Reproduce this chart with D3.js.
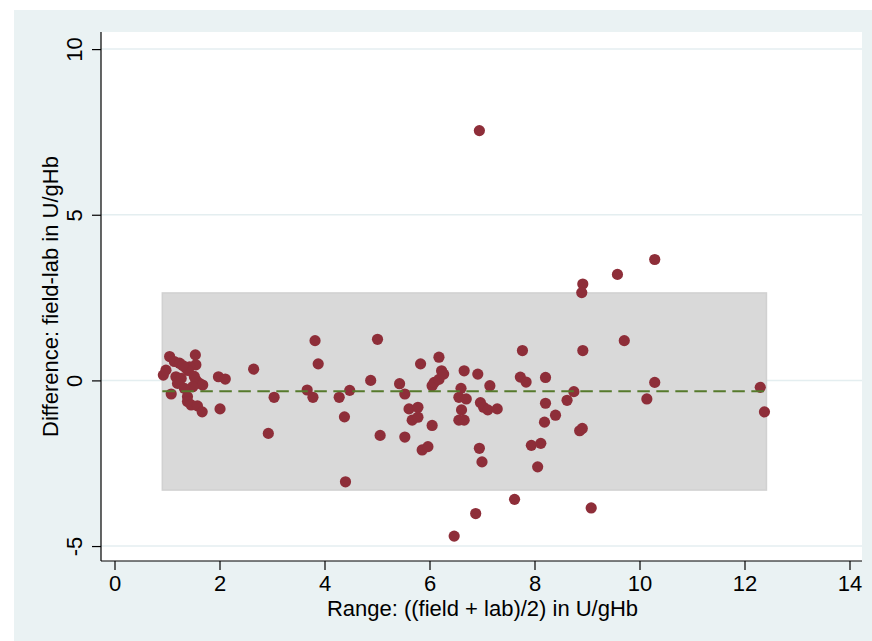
<!DOCTYPE html>
<html>
<head>
<meta charset="utf-8">
<script src="https://cdn.jsdelivr.net/npm/d3@7"></script>
<style>
body { margin: 0; background: #ffffff; }
svg { display: block; }
text { font-family: Arial, "Liberation Sans", sans-serif; fill: #000; }
</style>
</head>
<body>
<script>
// mean of field and lab (x) and their difference (y)
var rangeVals = [
    1.05, 1.14, 1.24, 1.54, 1.55, 1.43, 1.36, 0.93, 0.98, 1.17,
    1.27, 1.20, 1.55, 1.62, 1.68, 1.49, 1.33, 1.08, 1.39, 1.39,
    1.46, 1.58, 1.67, 1.98, 2.11, 2.01, 1.40, 1.52, 1.30,
    2.65, 3.04, 2.93, 3.82, 3.88, 3.67, 3.78, 4.28, 4.48, 4.38,
    4.40, 4.88, 5.01, 5.06, 5.43, 5.53, 5.53, 5.83, 6.18, 5.61,
    5.78, 5.67, 5.78, 6.05, 5.86, 5.97, 6.05, 6.09, 6.18, 6.23,
    6.27, 6.47, 6.60, 6.66, 6.56, 6.70, 6.61, 6.56, 6.66, 6.92,
    6.97, 7.03, 7.11, 7.29, 7.15, 6.95, 7.00, 6.95, 6.88, 7.62,
    7.77, 7.73, 7.84, 8.21, 8.21, 8.19, 8.40, 7.94, 8.12, 8.06,
    8.62, 8.75, 8.92, 8.86, 8.91, 8.92, 8.90, 9.08, 9.58, 9.71,
    10.29, 10.29, 10.14, 12.30, 12.38
];
var diffVals = [
    0.72, 0.57, 0.52, 0.77, 0.47, 0.41, 0.37, 0.16, 0.31, 0.11,
    0.06, -0.09, 0.01, -0.09, -0.14, -0.19, -0.24, -0.41, -0.49, -0.64,
    -0.74, -0.77, -0.95, 0.11, 0.04, -0.86, 0.30, 0.12, 0.45,
    0.34, -0.51, -1.60, 1.20, 0.50, -0.29, -0.51, -0.51, -0.30, -1.10,
    -3.06, 0.00, 1.24, -1.66, -0.10, -0.41, -1.71, 0.50, 0.70, -0.86,
    -0.81, -1.20, -1.11, -1.36, -2.10, -2.00, -0.16, -0.06, 0.03, 0.29,
    0.19, -4.70, -0.24, 0.29, -0.51, -0.56, -0.89, -1.20, -1.20, 0.19,
    -0.67, -0.81, -0.89, -0.86, -0.16, -2.05, -2.46, 7.54, -4.02, -3.59,
    0.90, 0.10, -0.05, 0.09, -0.69, -1.26, -1.05, -1.96, -1.90, -2.61,
    -0.60, -0.34, 0.90, -1.52, -1.45, 2.91, 2.65, -3.85, 3.20, 1.20,
    3.65, -0.06, -0.56, -0.21, -0.95
];

var meanDiff = -0.33;
var loaUpper = 2.64;
var loaLower = -3.31;

var xTicks = [0, 2, 4, 6, 8, 10, 12, 14];
var yTicks = [-5, 0, 5, 10];
var xTitle = "Range: ((field + lab)/2) in U/gHb";
var yTitle = "Difference: field-lab in U/gHb";

var W = 872, H = 641;
var plot = { left: 101, right: 862, top: 32, bottom: 561 };

var svg = d3.select("body").append("svg")
    .attr("width", W)
    .attr("height", H);

// graph region
svg.append("rect")
    .attr("x", 14).attr("y", 10)
    .attr("width", W - 14).attr("height", H - 10)
    .attr("fill", "#eaf2f3");

// plot region
svg.append("rect")
    .attr("x", plot.left).attr("y", plot.top)
    .attr("width", plot.right - plot.left).attr("height", plot.bottom - plot.top)
    .attr("fill", "#ffffff");

var x = d3.scaleLinear().domain([0, 14]).range([114.5, 849.5]);
var y = d3.scaleLinear().domain([0, 10]).range([380.4, 49.1]);

function plainNum(d) { return String(d); }

// grid lines
svg.append("g").selectAll("line")
    .data(yTicks)
    .enter().append("line")
    .attr("x1", plot.left).attr("x2", plot.right)
    .attr("y1", function (d) { return y(d); })
    .attr("y2", function (d) { return y(d); })
    .attr("stroke", "#e4eef0")
    .attr("stroke-width", 1.5);

// limits of agreement band
var xr = d3.extent(rangeVals);
svg.append("rect")
    .attr("x", x(xr[0]) - 1)
    .attr("y", y(loaUpper))
    .attr("width", x(xr[1]) - x(xr[0]) + 3)
    .attr("height", y(loaLower) - y(loaUpper))
    .attr("fill", "#d9d9d9")
    .attr("stroke", "#d1d1d1")
    .attr("stroke-width", 1.5);

var pts = rangeVals.map(function (v, i) { return [v, diffVals[i]]; });

svg.append("g").selectAll("circle")
    .data(pts)
    .enter().append("circle")
    .attr("cx", function (d) { return x(d[0]); })
    .attr("cy", function (d) { return y(d[1]); })
    .attr("r", 5.6)
    .attr("fill", "#8e2e39");

// mean difference
svg.append("line")
    .attr("x1", x(xr[0]) - 1).attr("x2", x(xr[1]) + 2)
    .attr("y1", y(meanDiff)).attr("y2", y(meanDiff))
    .attr("stroke", "#567a2c")
    .attr("stroke-width", 2)
    .attr("stroke-dasharray", "12.5,6.5");

// x axis
var xAxis = d3.axisBottom(x)
    .tickValues(xTicks)
    .tickSize(9)
    .tickPadding(5)
    .tickFormat(plainNum);
var gx = svg.append("g")
    .attr("transform", "translate(0," + plot.bottom + ")")
    .call(xAxis);
gx.select(".domain").remove();
gx.append("line")
    .attr("x1", plot.left).attr("x2", plot.right)
    .attr("stroke", "#000").attr("stroke-width", 1.2);
gx.selectAll(".tick line").attr("stroke", "#000").attr("stroke-width", 1.2);
gx.selectAll(".tick text")
    .style("font-size", "22px")
    .style("font-family", "Arial, 'Liberation Sans', sans-serif")
    .attr("fill", "#000");

// y axis
var yAxis = d3.axisLeft(y)
    .tickValues(yTicks)
    .tickSize(9)
    .tickFormat(plainNum);
var gy = svg.append("g")
    .attr("transform", "translate(" + plot.left + ",0)")
    .call(yAxis);
gy.select(".domain").remove();
gy.append("line")
    .attr("y1", plot.top).attr("y2", plot.bottom)
    .attr("stroke", "#000").attr("stroke-width", 1.2);
gy.selectAll(".tick line").attr("stroke", "#000").attr("stroke-width", 1.2);
gy.selectAll(".tick text")
    .attr("x", null).attr("dy", null)
    .attr("text-anchor", "middle")
    .attr("transform", "translate(-19,0) rotate(-90)")
    .style("font-size", "22px")
    .style("font-family", "Arial, 'Liberation Sans', sans-serif")
    .attr("fill", "#000");

// titles
svg.append("text")
    .attr("x", (x(0) + x(14)) / 2 + 0.5)
    .attr("y", 616)
    .attr("text-anchor", "middle")
    .style("font-size", "22px")
    .text(xTitle);

svg.append("text")
    .attr("transform", "translate(58," + ((plot.top + plot.bottom) / 2) + ") rotate(-90)")
    .attr("text-anchor", "middle")
    .style("font-size", "22px")
    .text(yTitle);
</script>
</body>
</html>
